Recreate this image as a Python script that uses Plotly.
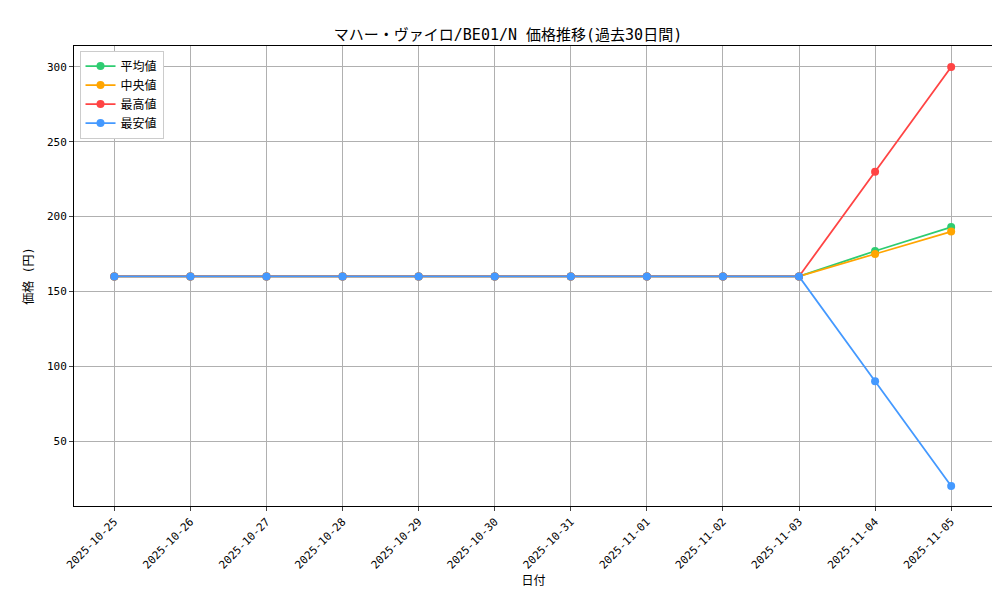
import plotly.graph_objects as go

dates = ["2025-10-25","2025-10-26","2025-10-27","2025-10-28","2025-10-29","2025-10-30",
         "2025-10-31","2025-11-01","2025-11-02","2025-11-03","2025-11-04","2025-11-05"]
avg_vals = [160,160,160,160,160,160,160,160,160,160,177,193]
med_vals = [160,160,160,160,160,160,160,160,160,160,175,190]
max_vals = [160,160,160,160,160,160,160,160,160,160,230,300]
min_vals = [160,160,160,160,160,160,160,160,160,160,90,20]
series = [("平均値", avg_vals, "#2ecc71"), ("中央値", med_vals, "#ffa500"),
          ("最高値", max_vals, "#ff4444"), ("最安値", min_vals, "#4499ff")]

font = "DejaVu Sans Mono, Noto Sans CJK JP"
fig = go.Figure()
for name, vals, c in series:
    fig.add_trace(go.Scatter(x=list(range(len(dates))), y=vals, name=name, mode="lines+markers",
                             line=dict(color=c, width=1.8), marker=dict(color=c, size=8)))
axis = dict(showline=True, mirror=True, linecolor="black", linewidth=1, showgrid=True,
            gridcolor="#b0b0b0", gridwidth=1, ticks="outside", ticklen=4, zeroline=False,
            automargin=False, tickfont=dict(size=11, color="black"))
fig.update_layout(
    width=1000, height=600, plot_bgcolor="white", paper_bgcolor="white",
    font=dict(family=font, size=12, color="black"),
    margin=dict(l=66, r=15, t=38, b=102),
    title=dict(text="マハー・ヴァイロ/BE01/N 価格推移(過去30日間)", x=0.5, xanchor="center",
               y=0.965, font=dict(size=15)),
    xaxis=dict(axis, tickmode="array", tickvals=list(range(len(dates))), ticktext=dates,
               tickangle=-45, range=[-0.53, 11.55],
               title=dict(text="日付", font=dict(size=12), standoff=6)),
    yaxis=dict(axis, range=[6.6, 314], tickvals=[50,100,150,200,250,300],
               title=dict(text="価格 (円)", font=dict(size=12), standoff=10)),
    legend=dict(x=0.006, y=0.99, xanchor="left", yanchor="top", bgcolor="white",
                bordercolor="#cccccc", borderwidth=1, font=dict(size=12)),
)
fig.write_html("out.html")
